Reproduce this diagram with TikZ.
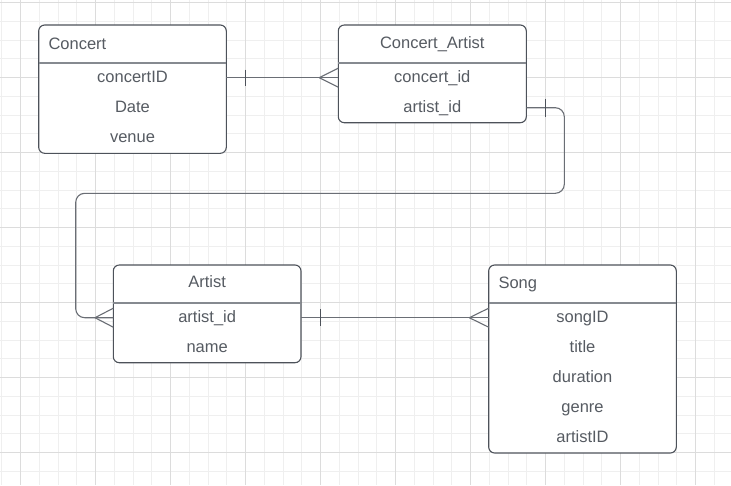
\documentclass[tikz,border=0pt]{standalone}
\usepackage{fontspec}
\setmainfont{Liberation Sans}
\usetikzlibrary{calc}
\definecolor{gridminor}{HTML}{EFEFEF}
\definecolor{gridmajor}{HTML}{DCDCDC}
\definecolor{boxline}{HTML}{4D525A}
\definecolor{divline}{HTML}{868A90}
\definecolor{txt}{HTML}{565B62}
\definecolor{connline}{HTML}{6A6E75}
\begin{document}
\begin{tikzpicture}[x=1pt,y=-1pt,
  tbl/.style={draw=boxline, line width=1.1pt, rounded corners=6pt, fill=white, anchor=north west, inner sep=0pt, outer sep=0pt},
  divl/.style={draw=divline, line width=1.6pt},
  rowtxt/.style={inner sep=0pt, text height=9.2pt, text depth=0pt, text=txt, font=\fontsize{16.5}{18}\selectfont},
  hdr/.style={inner sep=0pt, text=txt, font=\fontsize{16.5}{18}\selectfont},
  conn/.style={draw=connline, line width=1.1pt},
  barl/.style={draw=boxline, line width=1pt}
]
\useasboundingbox (0,0) rectangle (731,485);
\fill[white] (0,0) rectangle (731,485);
% grid
\foreach \k in {0,...,38} {\draw[gridminor, line width=1pt] ({1.95+18.75*\k},0) -- ({1.95+18.75*\k},485);}
\foreach \k in {0,...,25} {\draw[gridminor, line width=1pt] (0,{2.5+18.75*\k}) -- (731,{2.5+18.75*\k});}
\foreach \k in {0,...,9} {\draw[gridmajor, line width=1pt] ({20.7+75*\k},0) -- ({20.7+75*\k},485);}
\foreach \k in {0,...,6} {\draw[gridmajor, line width=1pt] (0,{2.5+75*\k}) -- (731,{2.5+75*\k});}

% Concert
\node[tbl, minimum width=187.6pt, minimum height=128.3pt] (concert) at (38.7,25) {};
\draw[divl] ($(concert.north west)+(0,37.7)$) -- ($(concert.north east)+(0,37.7)$);
\node[hdr, anchor=base west] (concertT) at (48.3,49) {Concert};
\node[rowtxt] (c1) at (132.5,77.7) {concertID};
\node[rowtxt] (c2) at (132.5,107.7) {Date};
\node[rowtxt] (c3) at (132.5,137.7) {venue};

% Concert_Artist
\node[tbl, minimum width=188pt, minimum height=97.7pt] (ca) at (338.3,25) {};
\draw[divl] ($(ca.north west)+(0,37.7)$) -- ($(ca.north east)+(0,37.7)$);
\node[hdr, anchor=base] (caT) at (432.3,48.7) {Concert\_Artist};
\node[rowtxt] (ca1) at (432.3,77.7) {concert\_id};
\node[rowtxt] (ca2) at (432.3,107.7) {artist\_id};

% Artist
\node[tbl, minimum width=187.7pt, minimum height=97.7pt] (artist) at (113.3,265) {};
\draw[divl] ($(artist.north west)+(0,37.7)$) -- ($(artist.north east)+(0,37.7)$);
\node[hdr, anchor=base] (artistT) at (207.2,287.7) {Artist};
\node[rowtxt] (a1) at (207.2,317.7) {artist\_id};
\node[rowtxt] (a2) at (207.2,347.7) {name};

% Song
\node[tbl, minimum width=187.6pt, minimum height=188pt] (song) at (488.7,265) {};
\draw[divl] ($(song.north west)+(0,37.7)$) -- ($(song.north east)+(0,37.7)$);
\node[hdr, anchor=base west] (songT) at (498.3,288.5) {Song};
\node[rowtxt] (s1) at (582.5,317.7) {songID};
\node[rowtxt] (s2) at (582.5,347.7) {title};
\node[rowtxt] (s3) at (582.5,377.7) {duration};
\node[rowtxt] (s4) at (582.5,407.7) {genre};
\node[rowtxt] (s5) at (582.5,437.7) {artistID};

% Concert -- Concert_Artist
\draw[conn] (concert.east |- c1) -- (ca.west |- ca1);
\draw[barl] ($(concert.east |- c1)+(19.5,-8)$) -- ++(0,16);
\draw[conn] ($(ca.west |- ca1)+(-19,0)$) -- ($(ca.west |- ca1)+(0,-9.5)$);
\draw[conn] ($(ca.west |- ca1)+(-19,0)$) -- ($(ca.west |- ca1)+(0,9.5)$);

% Concert_Artist -- Artist
\coordinate (j1) at (564.3,193.3);
\coordinate (j2) at (75.7,193.3);
\draw[conn, rounded corners=9pt] (ca.east |- ca2) -| (j1) -- (j2) |- (artist.west |- a1);
\draw[barl] ($(ca.east |- ca2)+(19.4,-9)$) -- ++(0,18);
\draw[conn] ($(artist.west |- a1)+(-18.3,0)$) -- ($(artist.west |- a1)+(0,-9.5)$);
\draw[conn] ($(artist.west |- a1)+(-18.3,0)$) -- ($(artist.west |- a1)+(0,9.5)$);

% Artist -- Song
\draw[conn] (artist.east |- a1) -- (song.west |- s1);
\draw[barl] ($(artist.east |- a1)+(19.3,-8.5)$) -- ++(0,17);
\draw[conn] ($(song.west |- s1)+(-19.4,0)$) -- ($(song.west |- s1)+(0,-9.5)$);
\draw[conn] ($(song.west |- s1)+(-19.4,0)$) -- ($(song.west |- s1)+(0,9.5)$);
\end{tikzpicture}
\end{document}
